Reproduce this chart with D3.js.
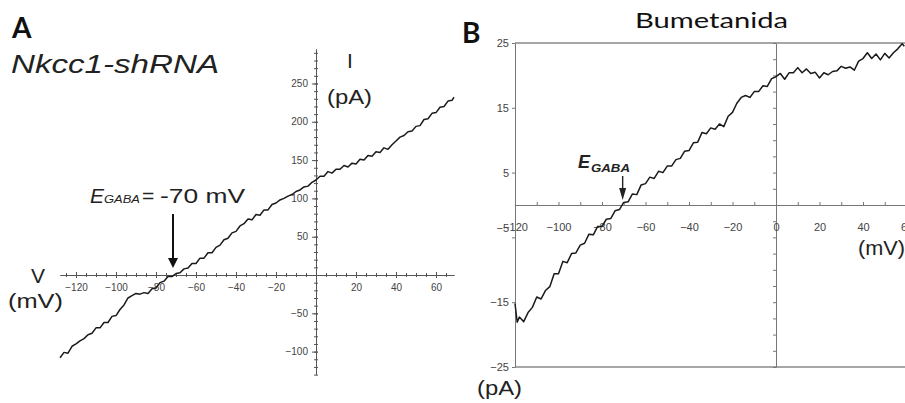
<!DOCTYPE html>
<html>
<head>
<meta charset="utf-8">
<style>
    body { margin: 0; background: #fff; }
    svg { display: block; font-family: "Liberation Sans", Arial, sans-serif; }
    .axA path, .axA line { stroke: #555; }
    .axA text { fill: #444; font-size: 10px; }
    .axB path, .axB line { stroke: #777; }
    .axB text { fill: #444; font-size: 11px; }
    .trace { fill: none; stroke: #1a1a1a; stroke-width: 1.5px; stroke-linejoin: round; }
</style>
</head>
<body>
<svg width="905" height="403"></svg>
<script src="https://d3js.org/d3.v7.min.js"></script>
<script>
    // panel A: Nkcc1-shRNA, I-V trace
    var vA = [-128, -126, -124, -122, -120, -118, -116, -114, -112, -110, -108, -106, -104, -102, -100,
        -98, -96, -94, -92, -90, -88, -86, -84, -82, -80, -78, -76, -74, -72, -70,
        -68, -66, -64, -62, -60, -58, -56, -54, -52, -50, -48, -46, -44, -42, -40,
        -38, -36, -34, -32, -30, -28, -26, -24, -22, -20, -18, -16, -14, -12, -10,
        -8, -6, -4, -2, 0, 2, 4, 6, 8, 10, 12, 14, 16, 18, 20,
        22, 24, 26, 28, 30, 32, 34, 36, 38, 40, 42, 44, 46, 48, 50,
        52, 54, 56, 58, 60, 62, 64, 66, 68, 69];
    var iA = [-108, -101, -102, -93, -90, -86, -83, -78, -76, -69, -69, -62, -62, -54, -53,
        -45, -39, -30, -27, -24, -25, -23, -24, -18, -17, -10, -8, -2, -2, 2,
        3, 8, 9, 15, 15, 22, 22, 29, 29, 36, 39, 46, 48, 55, 57,
        64, 67, 73, 72, 79, 78, 85, 85, 92, 94, 98, 100, 103, 105, 109,
        111, 115, 116, 121, 124, 129, 129, 135, 133, 138, 138, 143, 141, 146, 145,
        151, 150, 156, 155, 161, 160, 166, 164, 170, 175, 180, 182, 187, 188, 194,
        195, 203, 204, 211, 212, 219, 220, 227, 228, 232];
    var xTicksA = [-120, -100, -80, -60, -40, -20, 20, 40, 60];
    var yTicksA = [250, 200, 150, 100, 50, -50, -100];

    // panel B: Bumetanida, I-V trace
    var vB = [-120, -119, -118, -116, -114, -112, -110, -108, -106, -104, -102, -100,
        -98, -96, -94, -92, -90, -88, -86, -84, -82, -80, -78, -76, -74, -72, -70,
        -68, -66, -64, -62, -60, -58, -56, -54, -52, -50, -48, -46, -44, -42, -40,
        -38, -36, -34, -32, -30, -28, -26, -24, -22, -20, -18, -16, -14, -12, -10,
        -8, -6, -4, -2, 0, 2, 4, 6, 8, 10, 12, 14, 16, 18, 20,
        22, 24, 26, 28, 30, 32, 34, 36, 38, 40, 42, 44, 46, 48, 50,
        52, 54, 56, 58, 59];
    var iB = [-15.2, -18.1, -17.3, -18.0, -16.6, -15.8, -14.2, -14.5, -13.2, -12.6, -10.6, -10.6,
        -8.7, -8.9, -7.5, -7.4, -6.2, -5.9, -4.5, -4.6, -3.3, -3.3, -2.2, -2.1, -0.9, -0.7, 0.4,
        0.5, 1.7, 1.6, 3.1, 3.3, 4.3, 4.1, 5.2, 5.0, 6.0, 6.0, 7.0, 7.2, 8.3, 8.4,
        9.6, 9.7, 11.2, 11.0, 11.9, 11.7, 12.5, 12.1, 13.7, 14.3, 15.7, 16.6, 16.9, 16.6, 17.5,
        17.5, 18.4, 18.3, 19.5, 19.8, 20.3, 19.4, 20.4, 20.4, 21.2, 20.4, 21.0, 20.3, 20.5, 19.6,
        20.4, 20.1, 20.6, 20.7, 21.4, 21.1, 21.3, 20.8, 22.2, 22.6, 23.5, 22.6, 23.3, 22.4, 23.4,
        22.7, 23.5, 24.1, 24.9, 24.5];
    var xTicksB = [-120, -100, -80, -60, -40, -20, 0, 20, 40, 60];
    var yTicksB = [25, 15, 5, -5, -15, -25];

    var svg = d3.select('svg');

    // ---------- panel A ----------
    var xA = d3.scaleLinear().domain([-128, 69]).range([60, 454]);
    var yA = d3.scaleLinear().domain([-130, 295]).range([374.6, 49]);

    var gA = svg.append('g');

    // minor ticks (cross the axis)
    gA.append('g').attr('class', 'axA')
        .attr('transform', 'translate(0,' + yA(0) + ')')
        .call(d3.axisBottom(xA).tickValues(d3.range(-125, 70, 5)).tickFormat('').tickSizeOuter(0))
        .selectAll('.tick line').attr('y1', -2).attr('y2', 2);
    var axXA = gA.append('g').attr('class', 'axA')
        .attr('transform', 'translate(0,' + yA(0) + ')')
        .call(d3.axisBottom(xA).tickValues(xTicksA).tickSizeOuter(0));
    axXA.selectAll('.tick line').attr('y1', -3).attr('y2', 3);
    axXA.selectAll('.tick text').attr('y', 9);

    gA.append('g').attr('class', 'axA')
        .attr('transform', 'translate(' + xA(0) + ',0)')
        .call(d3.axisLeft(yA).tickValues(d3.range(-130, 300, 10)).tickFormat('').tickSizeOuter(0))
        .selectAll('.tick line').attr('x1', -2).attr('x2', 2);
    var axYA = gA.append('g').attr('class', 'axA')
        .attr('transform', 'translate(' + xA(0) + ',0)')
        .call(d3.axisLeft(yA).tickValues(yTicksA).tickSizeOuter(0));
    axYA.selectAll('.tick line').attr('x1', -4).attr('x2', 2);
    axYA.selectAll('.tick text').attr('x', -8);

    gA.append('path').attr('class', 'trace')
        .attr('d', d3.line().x(function (d, i) { return xA(d); }).y(function (d, i) { return yA(iA[i]); })(vA));

    // labels A
    gA.append('text').attr('x', 12).attr('y', 38).attr('font-family', 'Lato, "Open Sans", sans-serif')
        .attr('font-weight', 'bold').attr('font-size', 28).attr('fill', '#111').text('A');
    gA.append('text').attr('x', 11).attr('y', 73).attr('font-style', 'italic').attr('font-size', 25)
        .attr('fill', '#222').attr('textLength', 208).attr('lengthAdjust', 'spacingAndGlyphs').text('Nkcc1-shRNA');
    gA.append('text').attr('x', 350).attr('y', 68).attr('font-size', 21).attr('text-anchor', 'middle')
        .attr('fill', '#222').text('I');
    gA.append('text').attr('x', 327).attr('y', 104).attr('font-size', 21)
        .attr('fill', '#222').attr('textLength', 45).attr('lengthAdjust', 'spacingAndGlyphs').text('(pA)');
    gA.append('text').attr('x', 38).attr('y', 283).attr('font-size', 21).attr('text-anchor', 'middle')
        .attr('fill', '#222').text('V');
    gA.append('text').attr('x', 8).attr('y', 308).attr('font-size', 21)
        .attr('fill', '#222').attr('textLength', 55).attr('lengthAdjust', 'spacingAndGlyphs').text('(mV)');

    gA.append('text').attr('x', 90).attr('y', 203).attr('font-style', 'italic').attr('font-size', 21)
        .attr('fill', '#222').text('E');
    gA.append('text').attr('x', 104).attr('y', 203).attr('font-style', 'italic').attr('font-size', 11)
        .attr('fill', '#222').attr('textLength', 36).attr('lengthAdjust', 'spacingAndGlyphs').text('GABA');
    gA.append('text').attr('x', 142).attr('y', 203).attr('font-size', 21)
        .attr('fill', '#222').text('=');
    gA.append('text').attr('x', 160).attr('y', 203).attr('font-size', 21)
        .attr('fill', '#222').attr('textLength', 85).attr('lengthAdjust', 'spacingAndGlyphs').text('-70 mV');

    // arrow A
    var axA = xA(-71.5);
    gA.append('line').attr('x1', axA).attr('x2', axA).attr('y1', 214).attr('y2', 259)
        .attr('stroke', '#111').attr('stroke-width', 2);
    gA.append('path').attr('d', 'M' + (axA - 5) + ',258L' + (axA + 5) + ',258L' + axA + ',268Z').attr('fill', '#111');

    // ---------- panel B ----------
    var xB = d3.scaleLinear().domain([-120, 0]).range([515, 776]);
    var yB = d3.scaleLinear().domain([-25, 25]).range([367, 43]);
    var gB = svg.append('g');

    // frame
    gB.append('line').attr('x1', xB(-120)).attr('x2', xB(64)).attr('y1', yB(25)).attr('y2', yB(25))
        .attr('stroke', '#888').attr('stroke-width', 1.3);
    gB.append('line').attr('x1', xB(-120)).attr('x2', xB(64)).attr('y1', yB(-25)).attr('y2', yB(-25))
        .attr('stroke', '#888').attr('stroke-width', 1.3);

    var axYB = gB.append('g').attr('class', 'axB')
        .attr('transform', 'translate(' + xB(-120) + ',0)')
        .call(d3.axisLeft(yB).tickValues(yTicksB).tickSize(3).tickSizeOuter(0));
    axYB.selectAll('.tick text').attr('x', -6)
        .filter(function (d) { return d === -5; }).attr('dy', '-0.5em');

    gB.append('g').attr('class', 'axB')
        .attr('transform', 'translate(' + xB(0) + ',0)')
        .call(d3.axisLeft(yB).tickValues(d3.range(-25, 25.1, 2.5)).tickFormat('').tickSize(3).tickSizeOuter(0));

    gB.append('g').attr('class', 'axB')
        .attr('transform', 'translate(0,' + yB(0) + ')')
        .call(d3.axisTop(xB.copy().domain([-120, 64]).range([xB(-120), xB(64)]))
            .tickValues(d3.range(-120, 70, 10)).tickFormat('').tickSize(3).tickSizeOuter(0));
    var axXB = gB.append('g').attr('class', 'axB')
        .attr('transform', 'translate(0,' + yB(0) + ')')
        .call(d3.axisBottom(xB).tickValues(xTicksB).tickSize(0));
    axXB.select('.domain').remove();
    axXB.selectAll('.tick text').attr('y', 18);

    gB.append('path').attr('class', 'trace')
        .attr('d', d3.line().x(function (d, i) { return xB(d); }).y(function (d, i) { return yB(iB[i]); })(vB));

    // labels B
    gB.append('text').attr('x', 462).attr('y', 43).attr('font-family', 'Lato, "Open Sans", sans-serif')
        .attr('font-weight', 'bold').attr('font-size', 28).attr('fill', '#111').text('B');
    gB.append('text').attr('x', 635).attr('y', 28).attr('font-family', 'Lato, "Open Sans", sans-serif')
        .attr('font-size', 21).attr('fill', '#111')
        .attr('textLength', 153).attr('lengthAdjust', 'spacingAndGlyphs').text('Bumetanida');
    gB.append('text').attr('x', 578).attr('y', 168).attr('font-style', 'italic').attr('font-weight', 'bold')
        .attr('font-size', 18).attr('fill', '#222').text('E');
    gB.append('text').attr('x', 591).attr('y', 172).attr('font-style', 'italic').attr('font-weight', 'bold')
        .attr('font-size', 11).attr('fill', '#222')
        .attr('textLength', 39).attr('lengthAdjust', 'spacingAndGlyphs').text('GABA');
    var axB = xB(-70.5);
    gB.append('line').attr('x1', axB).attr('x2', axB).attr('y1', 176).attr('y2', 190)
        .attr('stroke', '#222').attr('stroke-width', 1.4);
    gB.append('path').attr('d', 'M' + (axB - 3.5) + ',188L' + (axB + 3.5) + ',188L' + axB + ',200Z').attr('fill', '#222');
    gB.append('text').attr('x', 858).attr('y', 255).attr('font-size', 21).attr('fill', '#222')
        .attr('textLength', 47).attr('lengthAdjust', 'spacingAndGlyphs').text('(mV)');
    gB.append('text').attr('x', 477).attr('y', 395).attr('font-size', 21).attr('fill', '#222')
        .attr('textLength', 45).attr('lengthAdjust', 'spacingAndGlyphs').text('(pA)');
</script>
</body>
</html>
